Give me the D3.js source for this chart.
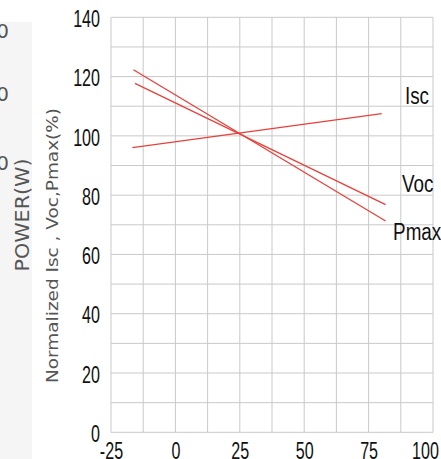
<!DOCTYPE html>
<html>
<head>
<meta charset="utf-8">
<script src="https://cdn.jsdelivr.net/npm/d3@7/dist/d3.min.js"></script>
<style>
  body { margin: 0; background: #fff; }
  svg { display: block; }
</style>
</head>
<body>
<div id="chart-area"></div>
<script>
// temperature (°C) at start / end of each line
const iscTemps = [-16.7, 80.1];
const vocTemps = [-15.7, 81.6];
const pmaxTemps = [-16.3, 81.6];
// normalized values (%)
const iscValues = [96.0, 107.5];
const vocValues = [117.7, 76.8];
const pmaxValues = [122.3, 71.3];

const xTicks = [-25, 0, 25, 50, 75, 100];
const yTicks = [0, 20, 40, 60, 80, 100, 120, 140];
const seriesNames = ['Isc', 'Voc', 'Pmax'];

const drawChart = () => {
  const chartSize = { width: 441, height: 459 };
  const plot = { left: 111, right: 433, top: 17.3, bottom: 432.3 };

  const svg = d3.select('#chart-area')
    .append('svg')
    .attr('width', chartSize.width)
    .attr('height', chartSize.height);

  // neighbouring chart, cut off at the left edge
  svg.append('rect')
    .attr('x', 0).attr('y', 22)
    .attr('width', 32).attr('height', chartSize.height - 22)
    .attr('fill', '#f5f5f5');

  [31, 94, 163].forEach(cy => {
    svg.append('text')
      .attr('x', 9).attr('y', cy)
      .attr('dy', '0.35em')
      .attr('text-anchor', 'end')
      .attr('font-family', 'DejaVu Sans')
      .attr('font-size', 20)
      .attr('fill', '#555')
      .text('0');
  });

  svg.append('text')
    .attr('transform', 'translate(29,215) rotate(-90)')
    .attr('text-anchor', 'middle')
    .attr('font-family', 'DejaVu Sans')
    .attr('font-size', 19)
    .attr('textLength', 113)
    .attr('lengthAdjust', 'spacingAndGlyphs')
    .attr('fill', '#555')
    .text('POWER(W)');

  const x = d3.scaleLinear().domain([-25, 100]).range([plot.left, plot.right]);
  const y = d3.scaleLinear().domain([0, 140]).range([plot.bottom, plot.top]);

  // grid
  const g = svg.append('g');
  g.selectAll('.vgrid').data(d3.range(-25, 100.1, 12.5)).enter()
    .append('line')
    .attr('x1', d => x(d)).attr('x2', d => x(d))
    .attr('y1', plot.top).attr('y2', plot.bottom)
    .attr('stroke', '#c9c9c9').attr('stroke-width', 1);
  g.selectAll('.hgrid').data(d3.range(0, 140.1, 10)).enter()
    .append('line')
    .attr('x1', plot.left).attr('x2', plot.right)
    .attr('y1', d => y(d)).attr('y2', d => y(d))
    .attr('stroke', '#c9c9c9').attr('stroke-width', 1);

  const sx = 0.7;
  const yAxis = d3.axisLeft(y).tickValues(yTicks).tickSize(0).tickPadding(0)
    .tickFormat(d => String(d));
  const yg = svg.append('g').attr('transform', `translate(${plot.left},0)`).call(yAxis);
  yg.select('.domain').remove();
  yg.selectAll('text')
    .attr('font-family', 'Liberation Sans')
    .attr('font-size', 23)
    .attr('fill', '#111')
    .attr('x', -11 / sx)
    .attr('dy', '0.4em')
    .attr('transform', `scale(${sx},1)`);

  const xAxis = d3.axisBottom(x).tickValues(xTicks).tickSize(0).tickPadding(10)
    .tickFormat(d => String(d));
  const xg = svg.append('g').attr('transform', `translate(0,${plot.bottom})`).call(xAxis);
  xg.select('.domain').remove();
  xg.selectAll('.tick text')
    .attr('font-family', 'Liberation Sans')
    .attr('font-size', 23)
    .attr('fill', '#111')
    .attr('x', d => d === 100 ? -8 / sx : 0)
    .attr('transform', `scale(${sx},1)`);

  svg.append('text')
    .attr('transform', `translate(58,${(108 + 383) / 2}) rotate(-90)`)
    .attr('text-anchor', 'middle')
    .attr('font-family', 'DejaVu Sans')
    .attr('font-size', 16.5)
    .attr('textLength', 275)
    .attr('lengthAdjust', 'spacingAndGlyphs')
    .attr('fill', '#555')
    .text('Normalized Isc , Voc,Pmax(%)');

  // lines
  const series = [
    { name: seriesNames[0], t: iscTemps, v: iscValues },
    { name: seriesNames[1], t: vocTemps, v: vocValues },
    { name: seriesNames[2], t: pmaxTemps, v: pmaxValues }
  ];
  const line = d3.line().x(d => x(d[0])).y(d => y(d[1]));
  svg.selectAll('.series').data(series).enter()
    .append('path')
    .attr('d', s => line(s.t.map((t, i) => [t, s.v[i]])))
    .attr('fill', 'none')
    .attr('stroke', '#e8403a')
    .attr('stroke-width', 1.3);

  // line labels (data coordinates)
  const labelAt = { Isc: [89.1, 110.8], Voc: [88.0, 81.0], Pmax: [84.5, 64.9] };
  const lx = 0.82;
  svg.selectAll('.lbl').data(series).enter()
    .append('text')
    .attr('transform', s => `translate(${x(labelAt[s.name][0])},${y(labelAt[s.name][1])}) scale(${lx},1)`)
    .attr('font-family', 'Liberation Sans')
    .attr('font-size', 23)
    .attr('fill', '#111')
    .text(s => s.name);
};

window.onload = drawChart;
</script>
</body>
</html>
